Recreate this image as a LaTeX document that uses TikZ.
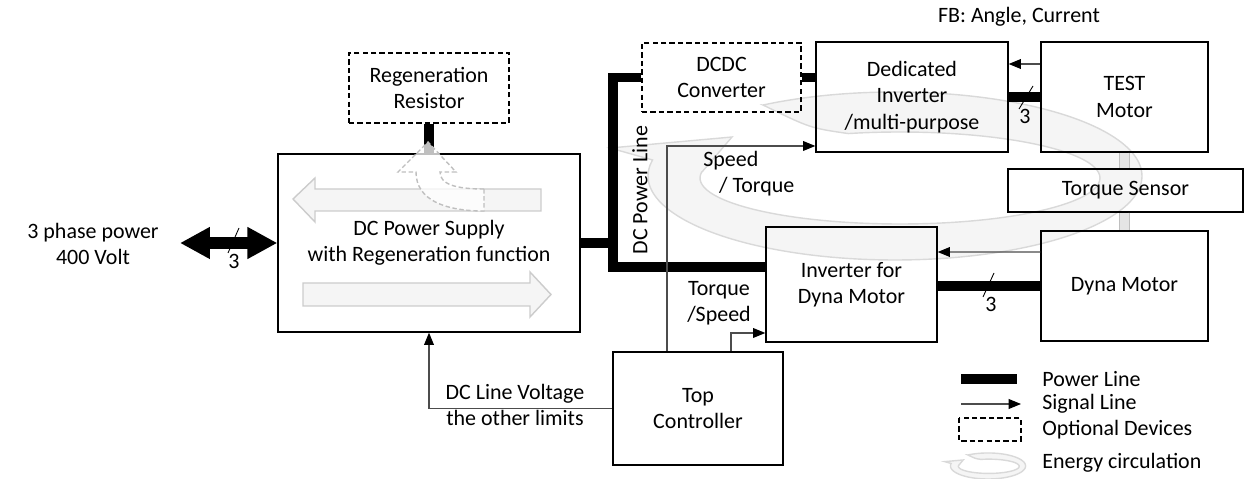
\documentclass[tikz,border=0pt]{standalone}
\usepackage{fontspec}
\setmainfont{Carlito}
\usetikzlibrary{arrows.meta,calc}

% energy circulation band (pixel coordinates)
\newcommand{\energyring}{%
  plot[domain=237.7:551,samples=90,smooth] ({895+247*cos(\x)},{176+84*sin(\x)})
  -- (610,148) -- (732,137) -- (702,172)
  -- plot[domain=547.5:255,samples=90,smooth] ({900+200*cos(\x)},{178+46*sin(\x)})
  .. controls (810,128) .. (763,105) -- cycle}

\begin{document}
\begin{tikzpicture}[x=0.02cm,y=-0.02cm,font=\fontsize{12.5}{15}\selectfont,
  box/.style={draw,line width=0.8pt,align=center,inner sep=2pt},
  optbox/.style={box,dash pattern=on 3pt off 1.8pt},
  power/.style={line width=5.4pt,line join=miter},
  signal/.style={line width=0.6pt,draw=black!70,-{Triangle[length=7pt,width=5.6pt,black]}},
  blockarrow/.style={draw=gray!40,fill=gray!8,line width=0.8pt},
  regenarrow/.style={draw=gray!50,fill=white,fill opacity=0.75,dash pattern=on 2.5pt off 1.5pt,line width=0.8pt},
  ring/.style={draw=gray!30,fill=gray!8,line width=0.8pt},
  shaft/.style={draw=gray!50,double=gray!20,double distance=4.6pt,line width=0.7pt}]
  \useasboundingbox (0,0) rectangle (1259,479);

  % Energy circulation (behind everything)
  \draw[ring] \energyring;

  % Left: supply side
  \node[optbox,minimum width=3.2cm,minimum height=1.4cm] (regen) at (429,88) {Regeneration\\Resistor};
  \node[box,minimum width=6.04cm,minimum height=3.56cm] (dcps) at (429,243) {DC Power Supply\\with Regeneration function};
  \node[align=center] (acpower) at (93,244) {3 phase power\\400 Volt};

  % Right: inverters and motors
  \node[optbox,minimum width=3.18cm,minimum height=1.38cm] (dcdc) at (721.5,77.5) {DCDC\\Converter};
  \node[box,minimum width=3.84cm,minimum height=2.2cm] (dedinv) at (912,97) {Dedicated\\Inverter\\/multi-purpose};
  \node[box,minimum width=3.34cm,minimum height=2.2cm] (test) at (1124.5,97) {TEST\\Motor};
  \node[box,minimum width=4.7cm,minimum height=0.86cm] (tsensor) at (1125.5,190.5) {Torque Sensor};
  \node[box,minimum width=3.34cm,minimum height=2.2cm] (dyna) at (1124.5,286) {Dyna Motor};
  \node[box,minimum width=3.42cm,minimum height=2.3cm] (invdyna) at (851.5,284.5) {Inverter for\\Dyna Motor};
  \node[box,line width=1.5pt,minimum width=3.4cm,minimum height=2.26cm] (topctrl) at (698,408.5) {Top\\Controller};

  % labels
  \node (fb) at (1019,17) {FB: Angle, Current};
  \node[rotate=90] (dcpl) at (640,190) {DC Power Line};
  \node[align=left,anchor=west,inner sep=0pt] (spdtq) at (703,173.5) {Speed\\\hspace*{9pt}/ Torque};
  \node[align=center] (tqspd) at (719,303.5) {Torque\\/Speed};
  \node[align=center] (dclv) at (515,405) {DC Line Voltage\\the other limits};
  \node (n3a) at (234,261) {3};
  \node (n3b) at (1025,116) {3};
  \node (n3c) at (991,304) {3};

  % arrows inside the supply
  \draw[blockarrow] (293,199) -- (315,178) -- (315,189) -- (541,189) -- (541,211) -- (315,211) -- (315,222) -- cycle;
  \draw[blockarrow] (303,283) -- (530,283) -- (530,272) -- (551,294.5) -- (530,317) -- (530,306) -- (303,306) -- cycle;

  % power lines
  \coordinate (acin) at (180,243);
  \coordinate (busT) at (613,77.5);
  \coordinate (busB) at (613,267);
  \draw[power,line width=6.5pt,{Triangle[length=17pt,width=17pt]}-{Triangle[length=17pt,width=17pt]}] (acin) -- (dcps.west);
  \draw[power] (regen.south) -- (dcps.north);
  \draw[power] (dcdc.west) -- (busT) -- (busB) -- (busB -| invdyna.west);
  \draw[power] (dcps.east) -- (dcps.east -| busT);
  \draw[power] (dcdc.east) -- (dcdc.east -| dedinv.west);
  \draw[power] (dedinv.east) -- (test.west);
  \draw[power] (invdyna.east |- dyna.west) -- (dyna.west);

  % 3-wire marks
  \draw[line width=0.5pt] (239,228) -- (228,253);
  \draw[line width=0.5pt] (1033,86) -- (1019,109);
  \draw[line width=0.5pt] (994,273) -- (983,297);

  % regeneration path
  \draw[regenarrow] (484,189) .. controls (455,189) and (440,184) .. (440,172) -- (456,172) -- (428,142)
    -- (398,172) -- (416,172) .. controls (416,200) and (445,211) .. (484,211) -- cycle;

  % mechanical shaft
  \draw[shaft] (test.south) -- (test.south |- tsensor.north);
  \draw[shaft] (dyna.north |- tsensor.south) -- (dyna.north);

  % signal lines
  \draw[signal] ([yshift=0.66cm]test.west) -- ([yshift=0.66cm]dedinv.east);
  \draw[signal] ([yshift=0.68cm]dyna.west) -- ([yshift=0.65cm]invdyna.east);
  \draw[signal] (topctrl.west) -| (dcps.south);
  \draw[signal] ([xshift=-0.62cm]topctrl.north) |- ([yshift=-0.98cm]dedinv.west);
  \draw[signal] ([xshift=0.66cm]topctrl.north) |- ([yshift=-0.97cm]invdyna.west);

  % legend
  \draw[power] (961,379) -- (1017,379);
  \draw[signal] (961,404) -- (1021,404);
  \draw[dash pattern=on 3pt off 1.8pt,line width=0.8pt] (959,418) rectangle (1021,441);
  \begin{scope}[shift={(852,438.7)},xscale=0.152,yscale=0.155]
    \draw[ring] \energyring;
  \end{scope}
  \node[anchor=west,inner sep=0pt] (lgpower) at (1042,379) {Power Line};
  \node[anchor=west,inner sep=0pt] (lgsignal) at (1042,404) {Signal Line};
  \node[anchor=west,inner sep=0pt] (lgoption) at (1042,430) {Optional Devices};
  \node[anchor=west,inner sep=0pt] (lgenergy) at (1042,463) {Energy circulation};
\end{tikzpicture}
\end{document}
